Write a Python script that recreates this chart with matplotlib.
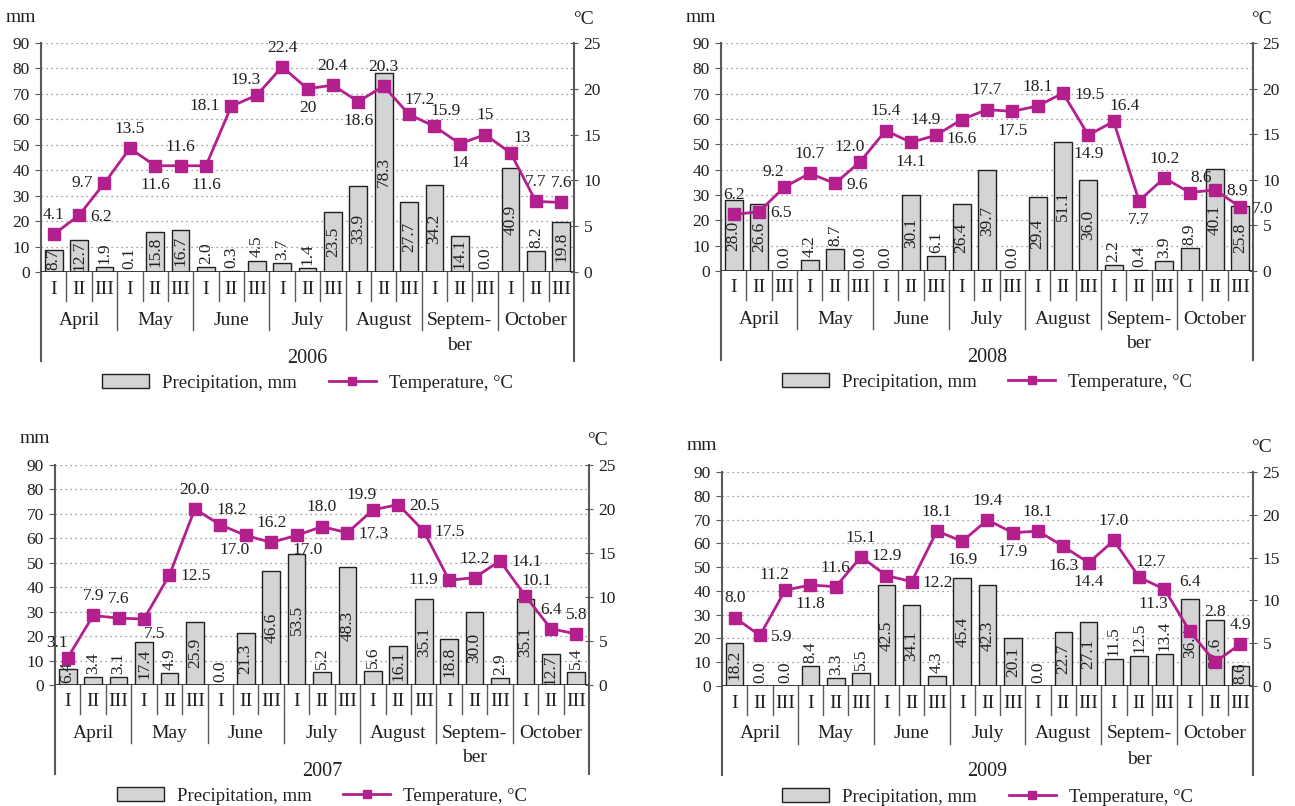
import numpy as np
import matplotlib.pyplot as plt
from matplotlib.patches import Patch
from matplotlib.lines import Line2D

# ====== data (ten-day periods, April..October) ======
decades = ["I", "II", "III"] * 7
months = ["April", "May", "June", "July", "August", "Septem-", "October"]

precip_2006 = [8.7, 12.7, 1.9, 0.1, 15.8, 16.7, 2.0, 0.3, 4.5, 3.7, 1.4, 23.5,
               33.9, 78.3, 27.7, 34.2, 14.1, 0.0, 40.9, 8.2, 19.8]
temp_2006 = [4.1, 6.2, 9.7, 13.5, 11.6, 11.6, 11.6, 18.1, 19.3, 22.4, 20, 20.4,
             18.6, 20.3, 17.2, 15.9, 14, 15, 13, 7.7, 7.6]

precip_2007 = [6.4, 3.4, 3.1, 17.4, 4.9, 25.9, 0.0, 21.3, 46.6, 53.5, 5.2, 48.3,
               5.6, 16.1, 35.1, 18.8, 30.0, 2.9, 35.1, 12.7, 5.4]
temp_2007 = [3.1, 7.9, 7.6, 7.5, 12.5, 20.0, 18.2, 17.0, 16.2, 17.0, 18.0, 17.3,
             19.9, 20.5, 17.5, 11.9, 12.2, 14.1, 10.1, 6.4, 5.8]

precip_2008 = [28.0, 26.6, 0.0, 4.2, 8.7, 0.0, 0.0, 30.1, 6.1, 26.4, 39.7, 0.0,
               29.4, 51.1, 36.0, 2.2, 0.4, 3.9, 8.9, 40.1, 25.8]
temp_2008 = [6.2, 6.5, 9.2, 10.7, 9.6, 12.0, 15.4, 14.1, 14.9, 16.6, 17.7, 17.5,
             18.1, 19.5, 14.9, 16.4, 7.7, 10.2, 8.6, 8.9, 7.0]

precip_2009 = [18.2, 0.0, 0.0, 8.4, 3.3, 5.5, 42.5, 34.1, 4.3, 45.4, 42.3, 20.1,
               0.0, 22.7, 27.1, 11.5, 12.5, 13.4, 36.4, 27.6, 8.6]
temp_2009 = [8.0, 5.9, 11.2, 11.8, 11.6, 15.1, 12.9, 12.2, 18.1, 16.9, 19.4, 17.9,
             18.1, 16.3, 14.4, 17.0, 12.7, 11.3, 6.4, 2.8, 4.9]

# ====== label placement (style only) ======
# bar labels: i = inside the bar, o = above the bar
bar_pos_2006 = "iiooiioooooiiiiiioioi"
bar_pos_2007 = "iooioioiiioioiiiioiio"
bar_pos_2008 = "iioooooioiioiiiooooii"
bar_pos_2009 = "ioooooiioiiioiioooiii"

temp_pos_2006 = ["a", "r", "l", "a", "b", "a", "b", "l", "al", "a", "b", "a", "b",
                 "a", "ar", "ar", "b", "a", "ar", "a", "a"]
temp_pos_2007 = ["al", "a", "a", "br", "r", "a", "ar", "bl", "a", "br", "a", "r",
                 "al", "r", "r", "l", "a", "r", "ar", "a", "a"]
temp_pos_2008 = ["a", "r", "al", "a", "r", "al", "a", "b", "al", "b", "a", "b", "a",
                 "r", "b", "ar", "b", "a", "ar", "r", "r"]
temp_pos_2009 = ["a", "r", "al", "b", "a", "a", "a", "r", "a", "b", "a", "b", "a",
                 "b", "b", "a", "ar", "bl", "A", "A", "a"]

offsets = {
    "a": (0, 8, "center", "bottom"),
    "A": (0, 30, "center", "bottom"),
    "b": (0, -8, "center", "top"),
    "l": (-8, 0, "right", "center"),
    "r": (8, -1, "left", "center"),
    "al": (-8, 5, "center", "bottom"),
    "ar": (8, 5, "center", "bottom"),
    "bl": (-8, -5, "center", "top"),
    "br": (8, -5, "center", "top"),
}

W, H = 1295, 806
BAR_C = "#d3d4d6"
EDGE_C = "#231f20"
LINE_C = "#b41f8e"
AXIS_C = "#5a5a5a"
TXT_C = "#231f20"

plt.rcParams["font.family"] = ["Liberation Serif", "DejaVu Serif"]
plt.rcParams["font.size"] = 12.5
plt.rcParams["text.color"] = TXT_C

fig = plt.figure(figsize=(W / 100, H / 100), dpi=100)


def draw_panel(year, box, precip, temp, bar_pos, temp_pos, tfmt):
    l, r, t, b = box
    wpx, hpx = r - l, b - t
    ax = fig.add_axes([l / W, 1 - b / H, wpx / W, hpx / H])
    x = np.arange(len(precip))

    # --- precipitation bars ---
    ax.bar(x, precip, width=0.7, color=BAR_C, edgecolor=EDGE_C, linewidth=1.0, zorder=2)
    ax.set_xlim(-0.5, 20.5)
    ax.set_ylim(0, 90)
    ax.set_yticks(range(0, 91, 10))
    ax.set_xticks([])
    ax.grid(axis="y", linestyle=(0, (1, 3)), color="#808080", linewidth=0.9, zorder=0)
    for s in ax.spines.values():
        s.set_visible(False)
    ax.tick_params(axis="y", direction="out", length=4, color=AXIS_C, pad=4,
                   labelsize=12.5, labelcolor=TXT_C)
    ax.axhline(0, color=EDGE_C, linewidth=1.2, zorder=3)

    for xi, h, p in zip(x, precip, bar_pos):
        if p == "i":
            ax.text(xi, max(h / 2, 5.2), f"{h:.1f}", rotation=90, ha="center",
                    va="center", fontsize=12.5, zorder=4)
        else:
            ax.text(xi, h + 1.2, f"{h:.1f}", rotation=90, ha="center",
                    va="bottom", fontsize=12.5, zorder=4)

    # --- axis frame lines and category separators below the plot ---
    tr = ax.get_xaxis_transform()
    ax.plot([-0.5, -0.5], [1, -89 / hpx], transform=tr, clip_on=False,
            color=AXIS_C, linewidth=1.5)
    ax.plot([20.5, 20.5], [1, -89 / hpx], transform=tr, clip_on=False,
            color=AXIS_C, linewidth=1.5)
    for k in range(1, 21):
        depth = 58 if k % 3 == 0 else 29
        ax.plot([k - 0.5, k - 0.5], [0, -depth / hpx], transform=tr, clip_on=False,
                color=AXIS_C, linewidth=1.0)
    for xi, d in zip(x, decades):
        ax.text(xi, -17 / hpx, d, transform=tr, ha="center", va="center", fontsize=14)
    for m, name in enumerate(months):
        ax.text(3 * m + 1, -48 / hpx, name, transform=tr, ha="center", va="center",
                fontsize=14)
    ax.text(16, -73 / hpx, "ber", transform=tr, ha="center", va="center", fontsize=14)
    ax.text(10, -86 / hpx, year, transform=tr, ha="center", va="center", fontsize=14.5)

    ax.text(-20 / wpx, 1 + 26 / hpx, "mm", transform=ax.transAxes, ha="center",
            va="center", fontsize=14)
    ax.text(1 + 9 / wpx, 1 + 24 / hpx, "°C", transform=ax.transAxes, ha="center",
            va="center", fontsize=14)

    # --- temperature on the right axis ---
    ax2 = ax.twinx()
    ax2.set_ylim(0, 25)
    ax2.set_yticks(range(0, 26, 5))
    for s in ax2.spines.values():
        s.set_visible(False)
    ax2.tick_params(axis="y", direction="inout", length=6, color=AXIS_C, pad=4,
                    labelsize=12.5, labelcolor=TXT_C)
    ax2.plot(x, temp, color=LINE_C, linewidth=2, marker="s", markersize=8.5, zorder=5,
             clip_on=False)
    for xi, v, p in zip(x, temp, temp_pos):
        dx, dy, ha, va = offsets[p]
        ax2.annotate(format(v, tfmt), (xi, v), xytext=(dx, dy),
                     textcoords="offset points", ha=ha, va=va, fontsize=12.5)

    # --- legend ---
    handles = [
        Patch(facecolor=BAR_C, edgecolor=EDGE_C, linewidth=1.0, label="Precipitation, mm"),
        Line2D([], [], color=LINE_C, linewidth=2, marker="s", markersize=6,
               label="Temperature, °C"),
    ]
    ax2.legend(handles=handles, loc="center", bbox_to_anchor=(0.5, -111 / hpx),
               ncol=2, frameon=False, fontsize=13.5, handlelength=2.5,
               handleheight=0.7, handletextpad=0.7, columnspacing=1.7)


draw_panel("2006", (41, 574, 43, 272), precip_2006, temp_2006,
           bar_pos_2006, temp_pos_2006, "g")
draw_panel("2008", (721, 1253, 43, 271), precip_2008, temp_2008,
           bar_pos_2008, temp_pos_2008, ".1f")
draw_panel("2007", (55, 589, 465, 685), precip_2007, temp_2007,
           bar_pos_2007, temp_pos_2007, ".1f")
draw_panel("2009", (722, 1253, 472, 686), precip_2009, temp_2009,
           bar_pos_2009, temp_pos_2009, ".1f")

fig.savefig("out.png", dpi=100)
